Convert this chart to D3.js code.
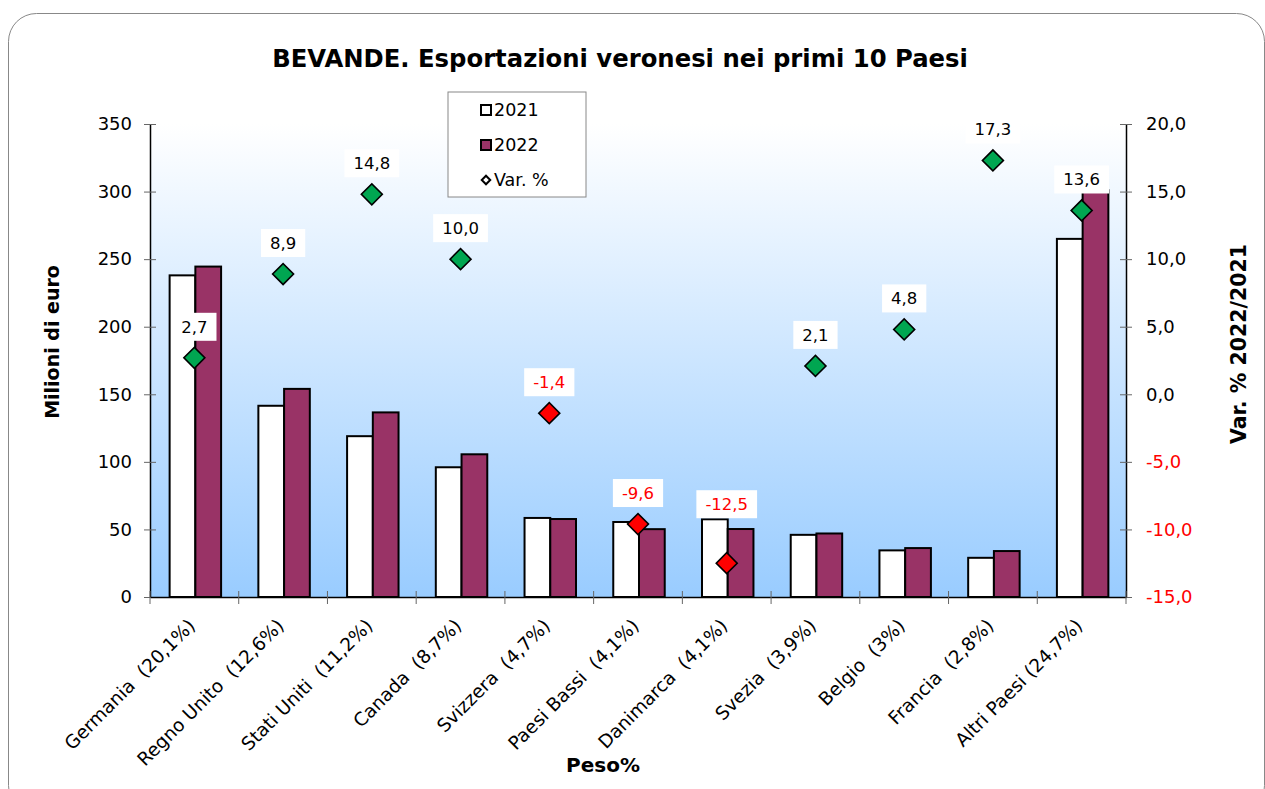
<!DOCTYPE html>
<html>
<head>
<meta charset="utf-8">
<script src="https://cdn.jsdelivr.net/npm/d3@7"></script>
<style>
  body { margin: 0; background: #fff; }
  svg { display: block; font-family: "DejaVu Sans", Verdana, sans-serif; }
</style>
</head>
<body>
<svg id="chart" width="1265" height="789"></svg>
<script>
// data
const countries = ["Germania  (20,1%)", "Regno Unito  (12,6%)", "Stati Uniti  (11,2%)", "Canada  (8,7%)",
  "Svizzera  (4,7%)", "Paesi Bassi  (4,1%)", "Danimarca  (4,1%)", "Svezia  (3,9%)",
  "Belgio  (3%)", "Francia  (2,8%)", "Altri Paesi (24,7%)"];
const exp2021 = [238, 141.5, 119, 96, 58.5, 55.5, 57.5, 46, 34.5, 29, 265];
const exp2022 = [244.5, 154, 136.6, 105.6, 57.7, 50.2, 50.3, 47, 36.2, 34, 301];
const varPct = [2.7, 8.9, 14.8, 10.0, -1.4, -9.6, -12.5, 2.1, 4.8, 17.3, 13.6];
const leftTicks = [0, 50, 100, 150, 200, 250, 300, 350];
const rightTicks = [-15, -10, -5, 0, 5, 10, 15, 20];
const seriesNames = ["2021", "2022", "Var. %"];

const it = d3.formatLocale({ decimal: ",", thousands: ".", grouping: [3], currency: ["", "€"], minus: "-" });
const f1 = it.format(".1f");

const svg = d3.select("#chart");
const pLeft = 150, pRight = 1126, pTop = 124, pBottom = 597;

// outer rounded frame
svg.append("rect")
  .attr("x", 8.5).attr("y", 13.5).attr("width", 1256).attr("height", 800)
  .attr("rx", 28).attr("fill", "#fff").attr("stroke", "#888").attr("stroke-width", 1);

// plot background gradient
const grad = svg.append("defs").append("linearGradient")
  .attr("id", "bg").attr("x1", 0).attr("y1", 0).attr("x2", 0).attr("y2", 1);
grad.append("stop").attr("offset", "0%").attr("stop-color", "#ffffff");
grad.append("stop").attr("offset", "100%").attr("stop-color", "#99ccff");
svg.append("rect")
  .attr("x", pLeft).attr("y", pTop).attr("width", pRight - pLeft).attr("height", pBottom - pTop)
  .attr("fill", "url(#bg)");

const x = d3.scaleBand().domain(countries).range([pLeft, pRight]).padding(0);
const groupW = x.bandwidth() * 0.58;
const xs = d3.scaleBand().domain(["2021", "2022"]).range([0, groupW]).padding(0);
const y = d3.scaleLinear().domain([0, 350]).range([pBottom, pTop]);
const y2 = d3.scaleLinear().domain([-15, 20]).range([pBottom, pTop]);

// bars
const groups = svg.append("g").selectAll("g")
  .data(countries)
  .join("g")
  .attr("transform", d => `translate(${x(d) + (x.bandwidth() - groupW) / 2 + 1},0)`);

groups.append("rect")
  .attr("x", xs("2021")).attr("width", xs.bandwidth())
  .attr("y", (d, i) => y(exp2021[i])).attr("height", (d, i) => y(0) - y(exp2021[i]))
  .attr("fill", "#ffffff").attr("stroke", "#000").attr("stroke-width", 2);

groups.append("rect")
  .attr("x", xs("2022")).attr("width", xs.bandwidth())
  .attr("y", (d, i) => y(exp2022[i])).attr("height", (d, i) => y(0) - y(exp2022[i]))
  .attr("fill", "#993366").attr("stroke", "#000").attr("stroke-width", 2);

// axes
const axL = svg.append("g").attr("transform", `translate(${pLeft},0)`)
  .call(d3.axisLeft(y).tickValues(leftTicks).tickSize(0).tickPadding(18).tickFormat(d3.format("d")));
const axR = svg.append("g").attr("transform", `translate(${pRight},0)`)
  .call(d3.axisRight(y2).tickValues(rightTicks).tickSize(0).tickPadding(20).tickFormat(f1));
const axB = svg.append("g").attr("transform", `translate(0,${pBottom})`)
  .call(d3.axisBottom(x).tickSize(0).tickFormat(""));

[axL, axR, axB].forEach(a => {
  a.select(".domain").attr("stroke", "#000").attr("stroke-width", 1.5);
  a.selectAll("text").attr("font-size", 18).attr("font-family", "DejaVu Sans, Verdana, sans-serif");
});
axR.selectAll(".tick text").attr("fill", d => d < 0 ? "#ff0000" : "#000");

// crossing tick marks
axL.selectAll(".tick").append("line").attr("x1", -6).attr("x2", 6).attr("stroke", "#666");
axR.selectAll(".tick").append("line").attr("x1", -6).attr("x2", 6).attr("stroke", "#666");
const bTicks = d3.range(countries.length + 1).map(i => pLeft + i * x.bandwidth());
svg.append("g").selectAll("line").data(bTicks).join("line")
  .attr("x1", d => d).attr("x2", d => d)
  .attr("y1", pBottom - 6).attr("y2", pBottom + 7)
  .attr("stroke", "#666");

// category labels
svg.append("g").selectAll("text").data(countries).join("text")
  .attr("transform", d => `translate(${x(d) + x.bandwidth() / 2 + 2},${pBottom + 30}) rotate(-45)`)
  .attr("text-anchor", "end")
  .attr("font-size", 18.5)
  .attr("style", "white-space:pre")
  .text(d => d);

// variation markers + labels
const cx = i => x(countries[i]) + x.bandwidth() / 2;
const labelShift = { 6: -28 }; // Danimarca label moved up above the bars
const pts = svg.append("g").selectAll("g").data(varPct).join("g");
pts.append("path")
  .attr("d", d3.symbol(d3.symbolSquare, 220))
  .attr("transform", (d, i) => `translate(${cx(i)},${y2(d)}) rotate(45)`)
  .attr("fill", d => d < 0 ? "#ff0000" : "#00a651")
  .attr("stroke", "#000").attr("stroke-width", 1.6);

pts.each(function (d, i) {
  const g = d3.select(this);
  const ly = y2(d) - 31 + (labelShift[i] || 0);
  const t = g.append("text")
    .attr("x", cx(i)).attr("y", ly).attr("dy", "0.36em")
    .attr("text-anchor", "middle").attr("font-size", 16.5)
    .attr("fill", d < 0 ? "#ff0000" : "#000")
    .text(f1(d));
  const bb = t.node().getBBox();
  g.insert("rect", "text")
    .attr("x", bb.x - 9).attr("y", ly - 14).attr("width", bb.width + 18).attr("height", 28)
    .attr("fill", "#fff");
});

// title
svg.append("text").attr("x", 620).attr("y", 67).attr("text-anchor", "middle")
  .attr("font-size", 24.3).attr("font-weight", "bold")
  .text("BEVANDE. Esportazioni veronesi nei primi 10 Paesi");

// axis titles
svg.append("text").attr("transform", "translate(59,342) rotate(-90)")
  .attr("text-anchor", "middle").attr("font-size", 19).attr("font-weight", "bold")
  .text("Milioni di euro");
svg.append("text").attr("transform", "translate(1246,344) rotate(-90)")
  .attr("text-anchor", "middle").attr("font-size", 20.5).attr("font-weight", "bold")
  .text("Var. % 2022/2021");
svg.append("text").attr("x", 603).attr("y", 772).attr("text-anchor", "middle")
  .attr("font-size", 20).attr("font-weight", "bold").text("Peso%");

// legend
const lg = svg.append("g").attr("transform", "translate(448,92)");
lg.append("rect").attr("width", 138).attr("height", 105)
  .attr("fill", "#fff").attr("stroke", "#888").attr("stroke-width", 1);
const lgRows = lg.selectAll("g").data(seriesNames).join("g")
  .attr("transform", (d, i) => `translate(0,${18 + i * 35})`);
lgRows.filter((d, i) => i < 2).append("rect")
  .attr("x", 33).attr("y", -5).attr("width", 10).attr("height", 10)
  .attr("fill", (d, i) => i === 0 ? "#fff" : "#993366")
  .attr("stroke", "#000").attr("stroke-width", 2);
lgRows.filter((d, i) => i === 2).append("path")
  .attr("d", d3.symbol(d3.symbolSquare, 36))
  .attr("transform", "translate(38,0) rotate(45)")
  .attr("fill", "#fff").attr("stroke", "#000").attr("stroke-width", 2);
lgRows.append("text").attr("x", 46).attr("dy", "0.36em")
  .attr("font-size", 17.5).text(d => d);
</script>
</body>
</html>
